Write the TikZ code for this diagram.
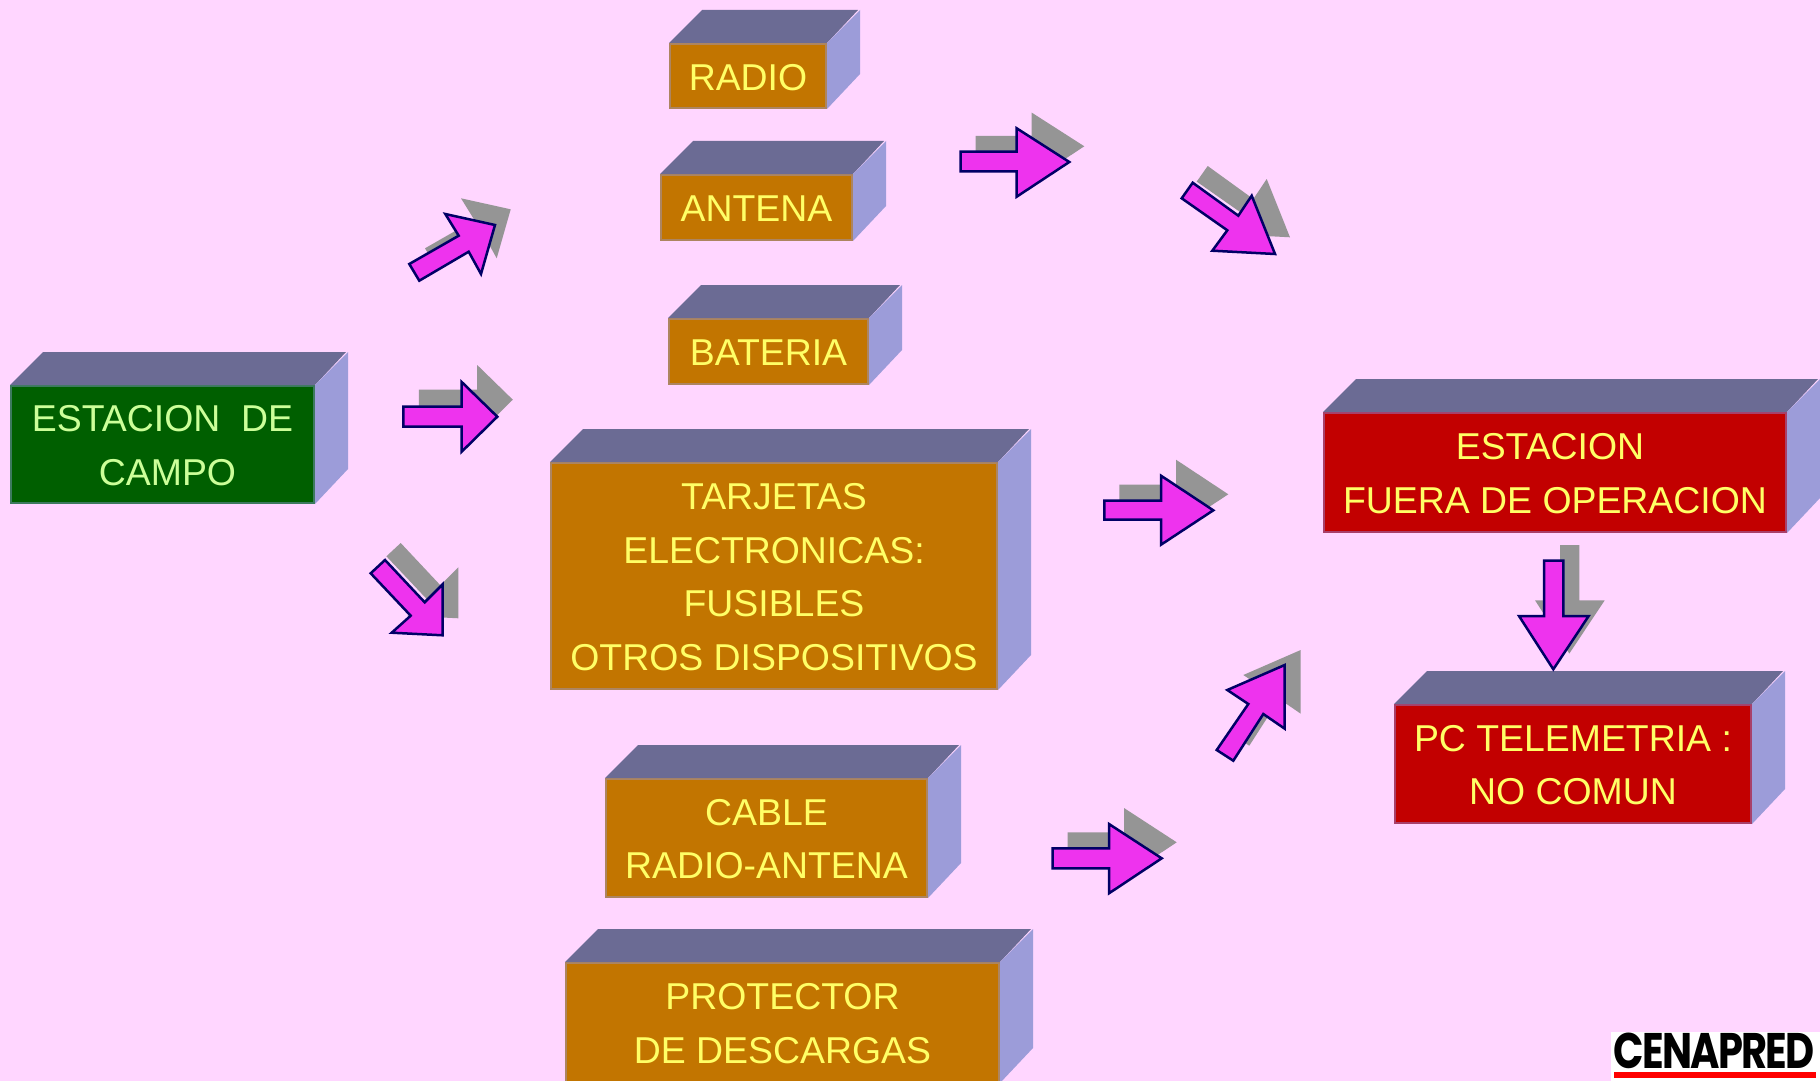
\documentclass[tikz,border=0pt]{standalone}
\usepackage{fontspec}
\setmainfont{Liberation Sans}
\newfontfamily\logofont[FakeStretch=0.8,LetterSpace=-3.5]{Poppins}
\definecolor{bgpink}{HTML}{FFD6FF}
\definecolor{topface}{HTML}{6B6B94}
\definecolor{sideface}{HTML}{9C9CD9}
\definecolor{orangeface}{HTML}{C27500}
\definecolor{orangeedge}{HTML}{AD8560}
\definecolor{greenface}{HTML}{005F00}
\definecolor{greenedge}{HTML}{3D7A5F}
\definecolor{redface}{HTML}{C20000}
\definecolor{rededge}{HTML}{A8406A}
\definecolor{yellowtext}{HTML}{FFFF66}
\definecolor{greentext}{HTML}{CCFF99}
\definecolor{arrowmagenta}{HTML}{EE33EE}
\definecolor{arrowedge}{HTML}{000066}
\definecolor{shadowgrey}{HTML}{959595}
\tikzset{
  frontbase/.style={line width=1pt, inner sep=0pt},
  boxlabel/.style={align=center, inner sep=0pt,
    font=\fontsize{18.7pt}{26.75pt}\selectfont},
  orangebox/.style={frontbase, draw=orangeedge, fill=orangeface},
  greenbox/.style={frontbase, draw=greenedge, fill=greenface},
  redbox/.style={frontbase, draw=rededge, fill=redface},
  arrowbody/.style={draw=arrowedge, fill=arrowmagenta, line width=1.25pt, line join=miter},
  arrowshade/.style={fill=shadowgrey}
}
% extruded box: name, centre x, centre y, width, height (pt), style, text colour, text
\newcommand\solidbox[8]{%
  \node[#6, minimum width=#4pt, minimum height=#5pt] (#1) at (#2,#3) {};
  \fill[topface] (#1.north west) -- ++(33,-33) -- ++(#4*2,0) -- (#1.north east) -- cycle;
  \fill[sideface] (#1.north east) -- ++(33,-33) -- ++(0,#5*2) -- (#1.south east) -- cycle;
  \node[boxlabel, text=#7] (#1label) at (#2,{#3+1.2}) {#8};
}
\newcommand\blockarrow[3]{%
  \fill[arrowshade, shift={(#1,#2)}] #3 -- cycle;
  \draw[arrowbody] #3 -- cycle;
}
\begin{document}
\begin{tikzpicture}[x=0.5pt,y=-0.5pt]
\fill[bgpink] (0,0) rectangle (1820,1081);
\useasboundingbox (0,0) rectangle (1820,1081);
\begin{scope}
\clip (0,0) rectangle (1820,1081);
\solidbox{estacion}{162.5}{444.5}{151.5}{58.5}{greenbox}{greentext}{ESTACION\ \ DE\\\hspace*{5pt}CAMPO}
\solidbox{radio}{748}{76}{78}{32}{orangebox}{yellowtext}{RADIO}
\solidbox{antena}{756.5}{207.5}{95.5}{32.5}{orangebox}{yellowtext}{ANTENA}
\solidbox{bateria}{768.5}{351.5}{99.5}{32.5}{orangebox}{yellowtext}{BATERIA}
\solidbox{tarjetas}{774}{576}{223}{113}{orangebox}{yellowtext}{TARJETAS\\ELECTRONICAS:\\FUSIBLES\\OTROS DISPOSITIVOS}
\solidbox{cable}{766.5}{838}{160.5}{59}{orangebox}{yellowtext}{CABLE\\RADIO-ANTENA}
\solidbox{protector}{782.5}{1022.5}{216.5}{59.5}{orangebox}{yellowtext}{PROTECTOR\\DE DESCARGAS}
\solidbox{fuera}{1555}{472.5}{231}{59.5}{redbox}{yellowtext}{ESTACION\hspace*{5pt}\\FUERA DE OPERACION}
\solidbox{telemetria}{1573}{764}{178}{59}{redbox}{yellowtext}{PC TELEMETRIA :\\NO COMUN}

\blockarrow{15.7}{-15.7}{(409.3,264) -- (419.3,280.7) -- (468.7,251.7) -- (481,274) -- (495,225) -- (445.3,214) -- (458.7,235.7)}
\blockarrow{15.5}{-17}{(403.3,406.7) -- (461.7,406.7) -- (461.7,382) -- (497.3,416.7) -- (461.7,451.7) -- (461.7,426.7) -- (403.3,426.7)}
\blockarrow{15.7}{-17}{(370.7,573.3) -- (385,560) -- (424.7,602.3) -- (442.7,584.3) -- (442.7,635.3) -- (391.7,632.7) -- (410.7,615.7)}
\blockarrow{15}{-15.7}{(960.7,151.7) -- (1016.7,151.7) -- (1016.7,128.3) -- (1069.3,162) -- (1016.7,196.7) -- (1016.7,171.3) -- (960.7,171.3)}
\blockarrow{15}{-16.7}{(1181.7,198.3) -- (1192.7,182.7) -- (1238.3,215.7) -- (1251.7,195.7) -- (1275,254) -- (1212.3,250.7) -- (1227.3,230.3)}
\blockarrow{15}{-16}{(1104.3,500.7) -- (1161,500.7) -- (1161,475.7) -- (1213.3,510.3) -- (1161,544.7) -- (1161,519.7) -- (1104.3,519.7)}
\blockarrow{15}{-16}{(1052.7,848.3) -- (1109,848.3) -- (1109,824) -- (1161.7,858.3) -- (1109,893.3) -- (1109,868.3) -- (1052.7,868.3)}
\blockarrow{16}{-15}{(1216.7,750) -- (1233.3,760.7) -- (1263.3,714) -- (1284.7,728.7) -- (1284.7,665) -- (1227.3,690) -- (1248.3,704)}
\blockarrow{16}{-15.7}{(1544,560.7) -- (1563.3,560.7) -- (1563.3,616) -- (1588.7,616) -- (1553.3,669.3) -- (1519,616) -- (1544,616)}

\node[fill=white, minimum width=104.5pt, minimum height=24.5pt, inner sep=0pt, anchor=north west] (logobox) at (1611,1032) {};
\node[inner sep=0pt, font=\logofont\bfseries\fontsize{25pt}{25pt}\selectfont] (logotext) at (1714,1050.5) {CENAPRED};
\fill[red] (1614,1072) rectangle (1816,1077.5);
\end{scope}
\end{tikzpicture}
\end{document}
